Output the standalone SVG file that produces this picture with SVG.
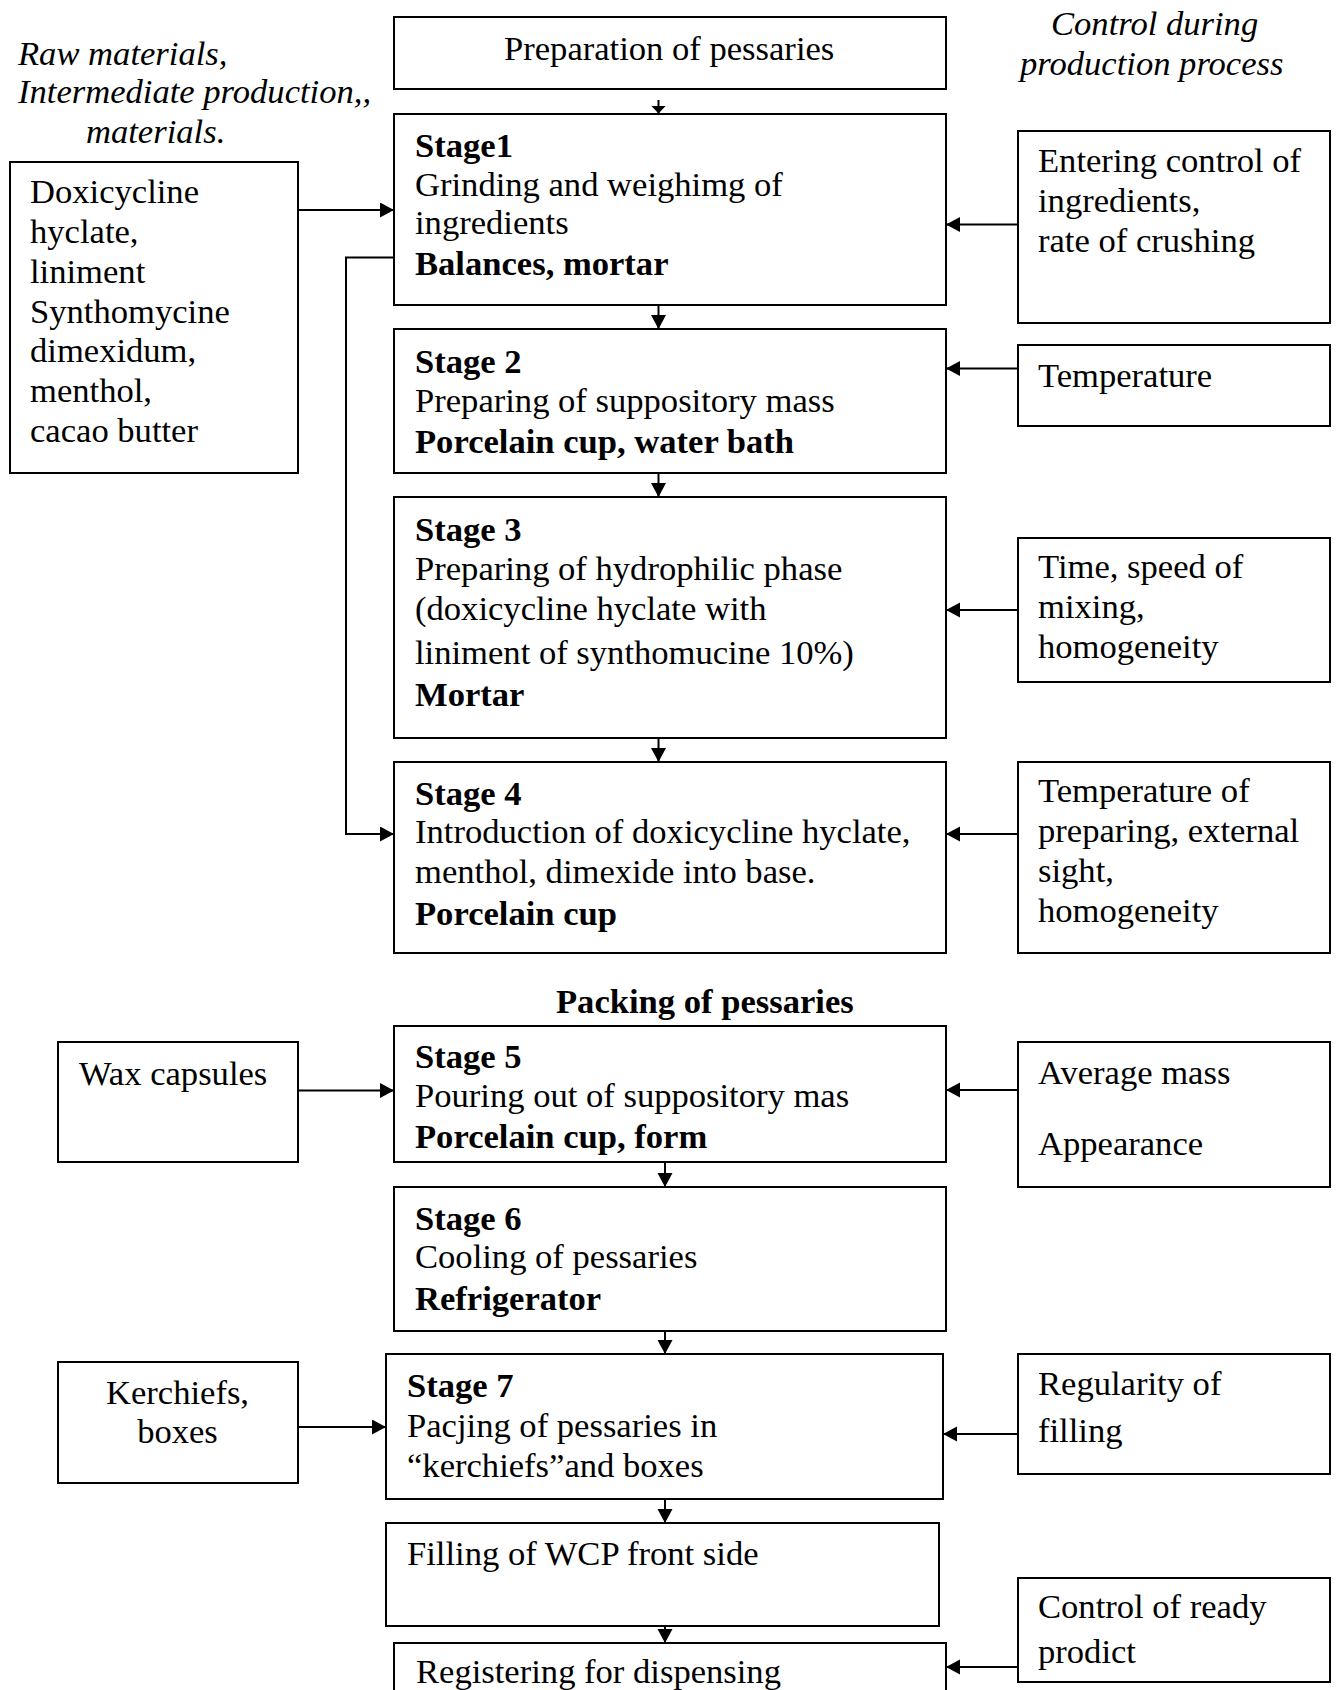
<svg xmlns="http://www.w3.org/2000/svg" width="1336" height="1690" viewBox="0 0 1336 1690">
<style>
  .box { fill: #ffffff; stroke: #000000; stroke-width: 2; }
  .t { font-family: "Liberation Serif", "Times New Roman", serif; font-size: 34.6px; fill: #000000; }
  .b { font-weight: bold; }
  .i { font-style: italic; }
  .c { fill: none; stroke: #000000; stroke-width: 2; }
</style>
<defs>
  <marker id="arr" markerUnits="userSpaceOnUse" markerWidth="15" markerHeight="16" refX="14" refY="7.5" orient="auto">
    <path d="M0,0 L14,7.5 L0,15 z" fill="#000000"/>
  </marker>
  <marker id="arrS" markerUnits="userSpaceOnUse" markerWidth="9" markerHeight="16" refX="8" refY="7.5" orient="auto">
    <path d="M0,0 L8,7.5 L0,15 z" fill="#000000"/>
  </marker>
</defs>
<rect width="1336" height="1690" fill="#ffffff"/>

<g id="heading-left">
  <text class="t i" x="18" y="65">Raw materials,</text>
  <text class="t i" x="18" y="103">Intermediate production,,</text>
  <text class="t i" x="86" y="143">materials.</text>
</g>
<g id="heading-right">
  <text class="t i" x="1051" y="35">Control during</text>
  <text class="t i" x="1020" y="75">production process</text>
</g>
<g id="heading-packing">
  <text class="t b" x="556" y="1013">Packing of pessaries</text>
</g>

<g id="connectors">
  <line class="c" x1="658.5" y1="100" x2="658.5" y2="113.5" marker-end="url(#arrS)"/>
  <line class="c" x1="658.5" y1="305" x2="658.5" y2="329" marker-end="url(#arr)"/>
  <line class="c" x1="658.5" y1="473" x2="658.5" y2="497" marker-end="url(#arr)"/>
  <line class="c" x1="658.5" y1="738" x2="658.5" y2="762" marker-end="url(#arr)"/>
  <line class="c" x1="665" y1="1162" x2="665" y2="1187" marker-end="url(#arr)"/>
  <line class="c" x1="665" y1="1331" x2="665" y2="1354" marker-end="url(#arr)"/>
  <line class="c" x1="665" y1="1499" x2="665" y2="1523" marker-end="url(#arr)"/>
  <line class="c" x1="665" y1="1618" x2="665" y2="1643" marker-end="url(#arr)"/>
  <line class="c" x1="298" y1="210" x2="394" y2="210" marker-end="url(#arr)"/>
  <path class="c" d="M394,257.5 H346 V834 H394" marker-end="url(#arr)"/>
  <line class="c" x1="1018" y1="224.5" x2="946" y2="224.5" marker-end="url(#arr)"/>
  <line class="c" x1="1018" y1="368.5" x2="946" y2="368.5" marker-end="url(#arr)"/>
  <line class="c" x1="1018" y1="610" x2="946" y2="610" marker-end="url(#arr)"/>
  <line class="c" x1="1018" y1="834" x2="946" y2="834" marker-end="url(#arr)"/>
  <line class="c" x1="298" y1="1090.5" x2="394" y2="1090.5" marker-end="url(#arr)"/>
  <line class="c" x1="1018" y1="1090" x2="946" y2="1090" marker-end="url(#arr)"/>
  <line class="c" x1="298" y1="1427" x2="386" y2="1427" marker-end="url(#arr)"/>
  <line class="c" x1="1018" y1="1434" x2="943" y2="1434" marker-end="url(#arr)"/>
  <line class="c" x1="1018" y1="1667" x2="946" y2="1667" marker-end="url(#arr)"/>
</g>

<g id="prep">
  <rect class="box" x="394" y="17" width="552" height="72"/>
  <text class="t" x="504" y="60">Preparation of pessaries</text>
</g>
<g id="stage1">
  <rect class="box" x="394" y="114" width="552" height="191"/>
  <text class="t b" x="415" y="157">Stage1</text>
  <text class="t" x="415" y="196">Grinding and weighimg of</text>
  <text class="t" x="415" y="234">ingredients</text>
  <text class="t b" x="415" y="275">Balances, mortar</text>
</g>
<g id="stage2">
  <rect class="box" x="394" y="329" width="552" height="144"/>
  <text class="t b" x="415" y="373">Stage 2</text>
  <text class="t" x="415" y="412">Preparing of suppository mass</text>
  <text class="t b" x="415" y="453">Porcelain cup, water bath</text>
</g>
<g id="stage3">
  <rect class="box" x="394" y="497" width="552" height="241"/>
  <text class="t b" x="415" y="541">Stage 3</text>
  <text class="t" x="415" y="580">Preparing of hydrophilic phase</text>
  <text class="t" x="415" y="620">(doxicycline hyclate with</text>
  <text class="t" x="415" y="664">liniment of synthomucine 10%)</text>
  <text class="t b" x="415" y="706">Mortar</text>
</g>
<g id="stage4">
  <rect class="box" x="394" y="762" width="552" height="191"/>
  <text class="t b" x="415" y="805">Stage 4</text>
  <text class="t" x="415" y="843">Introduction of doxicycline hyclate,</text>
  <text class="t" x="415" y="883">menthol, dimexide into base.</text>
  <text class="t b" x="415" y="925">Porcelain cup</text>
</g>
<g id="stage5">
  <rect class="box" x="394" y="1026" width="552" height="136"/>
  <text class="t b" x="415" y="1068">Stage 5</text>
  <text class="t" x="415" y="1107">Pouring out of suppository mas</text>
  <text class="t b" x="415" y="1148">Porcelain cup, form</text>
</g>
<g id="stage6">
  <rect class="box" x="394" y="1187" width="552" height="144"/>
  <text class="t b" x="415" y="1230">Stage 6</text>
  <text class="t" x="415" y="1268">Cooling of pessaries</text>
  <text class="t b" x="415" y="1310">Refrigerator</text>
</g>
<g id="stage7">
  <rect class="box" x="386" y="1354" width="557" height="145"/>
  <text class="t b" x="407" y="1397">Stage 7</text>
  <text class="t" x="407" y="1437">Pacjing of pessaries in</text>
  <text class="t" x="407" y="1477">“kerchiefs”and boxes</text>
</g>
<g id="filling">
  <rect class="box" x="386" y="1523" width="553" height="103"/>
  <text class="t" x="407" y="1565">Filling of WCP front side</text>
</g>
<g id="registering">
  <rect class="box" x="394" y="1643" width="552" height="60"/>
  <text class="t" x="416" y="1683">Registering for dispensing</text>
</g>

<g id="raw-materials">
  <rect class="box" x="10" y="162" width="288" height="311"/>
  <text class="t" x="30" y="203">Doxicycline</text>
  <text class="t" x="30" y="243">hyclate,</text>
  <text class="t" x="30" y="283">liniment</text>
  <text class="t" x="30" y="323">Synthomycine</text>
  <text class="t" x="30" y="362">dimexidum,</text>
  <text class="t" x="30" y="402">menthol,</text>
  <text class="t" x="30" y="442">cacao butter</text>
</g>
<g id="wax">
  <rect class="box" x="58" y="1042" width="240" height="120"/>
  <text class="t" x="79" y="1085">Wax capsules</text>
</g>
<g id="kerchiefs">
  <rect class="box" x="58" y="1362" width="240" height="121"/>
  <text class="t" x="177.5" y="1404" text-anchor="middle">Kerchiefs,</text>
  <text class="t" x="177.5" y="1443" text-anchor="middle">boxes</text>
</g>

<g id="ctrl-entering">
  <rect class="box" x="1018" y="131" width="312" height="192"/>
  <text class="t" x="1038" y="172">Entering control of</text>
  <text class="t" x="1038" y="212">ingredients,</text>
  <text class="t" x="1038" y="252">rate of crushing</text>
</g>
<g id="ctrl-temperature">
  <rect class="box" x="1018" y="345" width="312" height="81"/>
  <text class="t" x="1038" y="387">Temperature</text>
</g>
<g id="ctrl-time">
  <rect class="box" x="1018" y="538" width="312" height="144"/>
  <text class="t" x="1038" y="578">Time, speed of</text>
  <text class="t" x="1038" y="618">mixing,</text>
  <text class="t" x="1038" y="658">homogeneity</text>
</g>
<g id="ctrl-temp-prep">
  <rect class="box" x="1018" y="762" width="312" height="191"/>
  <text class="t" x="1038" y="802">Temperature of</text>
  <text class="t" x="1038" y="842">preparing, external</text>
  <text class="t" x="1038" y="882">sight,</text>
  <text class="t" x="1038" y="922">homogeneity</text>
</g>
<g id="ctrl-mass">
  <rect class="box" x="1018" y="1042" width="312" height="145"/>
  <text class="t" x="1038" y="1084">Average mass</text>
  <text class="t" x="1038" y="1155">Appearance</text>
</g>
<g id="ctrl-regularity">
  <rect class="box" x="1018" y="1354" width="312" height="120"/>
  <text class="t" x="1038" y="1395">Regularity of</text>
  <text class="t" x="1038" y="1442">filling</text>
</g>
<g id="ctrl-ready">
  <rect class="box" x="1018" y="1578" width="312" height="104"/>
  <text class="t" x="1038" y="1618">Control of ready</text>
  <text class="t" x="1038" y="1663">prodict</text>
</g>
</svg>
